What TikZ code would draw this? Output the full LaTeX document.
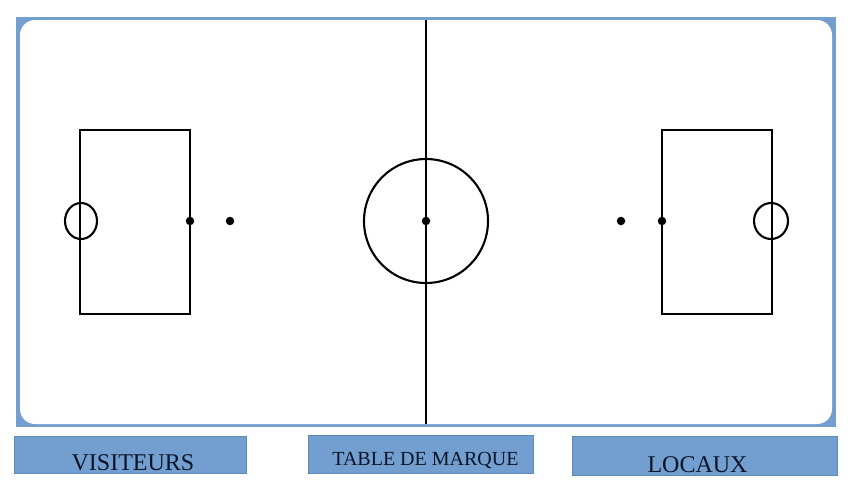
\documentclass[tikz,border=0pt]{standalone}
\usepackage{fontspec}
\setmainfont{Liberation Serif}
\definecolor{courtblue}{HTML}{729FCF}
\definecolor{boxedge}{HTML}{5F87B8}
\definecolor{labeltext}{HTML}{0A1428}
\tikzset{
  line/.style={black, line width=2.1pt},
  spot/.style={circle, fill=black, inner sep=0pt, minimum size=8.5pt},
  labelbox/.style={draw=boxedge, fill=courtblue, line width=0.8pt, text=labeltext, inner sep=0pt, anchor=north west},
}
\begin{document}
\begin{tikzpicture}[x=1pt,y=-1pt]
\useasboundingbox (0,0) rectangle (853,491);
% court
\fill[courtblue] (16,17) rectangle (836,427);
\fill[white, rounded corners=15pt] (20,20) rectangle (832,424);
% center line and circle
\coordinate (ctop) at (426,20);
\coordinate (cbot) at (426,424);
\draw[line] (ctop) -- (cbot);
\draw[line] (426,221) circle (62);
\node[spot] (c) at (426,221) {};
% left area
\draw[line] (80,130) rectangle (190,314);
\draw[line] (81,221) ellipse (16 and 18);
\node[spot] (l1) at (190,221) {};
\node[spot] (l2) at (230,221) {};
% right area
\draw[line] (662,130) rectangle (772,314);
\draw[line] (771,221) ellipse (17 and 18);
\node[spot] (r1) at (662,221) {};
\node[spot] (r2) at (621,221) {};
% labels
\node[labelbox, minimum width=232pt, minimum height=37pt] (vbox) at (14,436) {};
\node[text=labeltext, font=\fontsize{24}{24}\selectfont, anchor=base] (vis) at (133,470) {VISITEURS};
\node[labelbox, minimum width=225pt, minimum height=38pt] (tbox) at (308,435) {};
\node[text=labeltext, font=\fontsize{20}{20}\selectfont, anchor=base] (tab) at (425.5,465) {TABLE DE MARQUE};
\node[labelbox, minimum width=265pt, minimum height=39pt] (lbox) at (572,436) {};
\node[text=labeltext, font=\fontsize{24}{24}\selectfont, anchor=base] (loc) at (697.5,472) {LOCAUX};
\end{tikzpicture}
\end{document}
